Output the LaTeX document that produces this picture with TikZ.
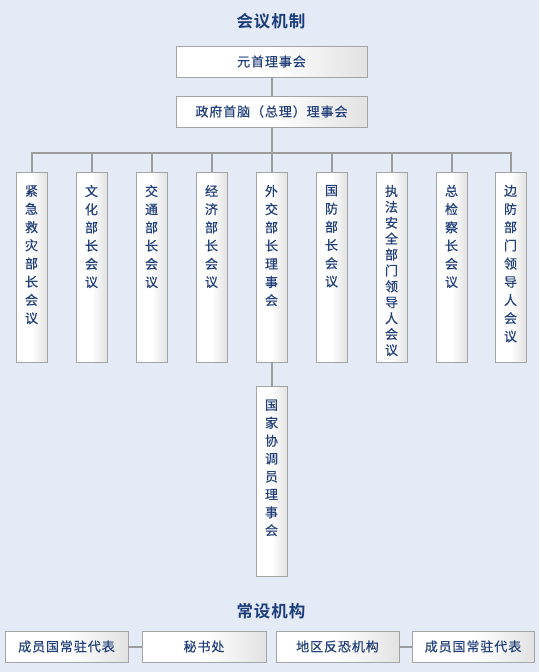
\documentclass[tikz,border=0pt]{standalone}
\usepackage{fontspec}
\newfontfamily\cjk[LetterSpace=7,FakeBold=0.5]{Noto Sans CJK SC}
\newfontfamily\cjkv[FakeBold=0.5]{Noto Sans CJK SC}
\newfontfamily\cjkb[LetterSpace=6]{Noto Sans CJK SC Bold}
\definecolor{bgcol}{HTML}{E4EBF6}
\definecolor{boxline}{HTML}{A4A4A4}
\definecolor{boxgrey}{HTML}{E2E2E2}
\definecolor{conncol}{HTML}{9C9C9C}
\definecolor{txtcol}{HTML}{22407A}
\definecolor{titlecol}{HTML}{1C3E7C}
\newcommand\colstack[2][18.2]{\parbox[c][190pt][t]{31pt}{\cjkv\fontsize{13}{#1}\selectfont\centering\vspace*{13pt}#2\par}}
\begin{document}
\begin{tikzpicture}[x=1pt,y=-1pt,
  box/.style={draw=boxline, line width=0.8pt, left color=white, right color=boxgrey, middle color=white, inner sep=0pt, text=txtcol, font=\cjk\fontsize{13}{13}\selectfont},
  hbox/.style={box, minimum height=31pt},
  vbox/.style={box},
  conn/.style={draw=conncol, line width=2pt},
  ttl/.style={text=titlecol, font=\cjkb\fontsize{16.5}{16.5}\selectfont, inner sep=0pt}]
\fill[bgcol] (0,0) rectangle (539,672);
\useasboundingbox (0,0) rectangle (539,672);

\node[ttl] (t1) at (271,21) {会议机制};
\node[hbox, minimum width=191pt] (b1) at (271.5,61.5) {元首理事会};
\node[hbox, minimum width=191pt] (b2) at (271.5,111.5) {政府首脑（总理）理事会};
\coordinate (bus) at (271.5,153);

\node[vbox] (c1) at (31.5,267) {\colstack{紧\\急\\救\\灾\\部\\长\\会\\议}};
\node[vbox] (c2) at (91.5,267) {\colstack{文\\化\\部\\长\\会\\议}};
\node[vbox] (c3) at (151.5,267) {\colstack{交\\通\\部\\长\\会\\议}};
\node[vbox] (c4) at (211.5,267) {\colstack{经\\济\\部\\长\\会\\议}};
\node[vbox] (c5) at (271.5,267) {\colstack{外\\交\\部\\长\\理\\事\\会}};
\node[vbox] (c6) at (331.5,267) {\colstack{国\\防\\部\\长\\会\\议}};
\node[vbox] (c7) at (391.5,267) {\colstack[15.9]{执\\法\\安\\全\\部\\门\\领\\导\\人\\会\\议}};
\node[vbox] (c8) at (451.5,267) {\colstack{总\\检\\察\\长\\会\\议}};
\node[vbox] (c9) at (510.5,267) {\colstack{边\\防\\部\\门\\领\\导\\人\\会\\议}};
\node[vbox] (c10) at (271.5,481.5) {\colstack[17.9]{国\\家\\协\\调\\员\\理\\事\\会}};

\draw[conn] (b1) -- (b2);
\draw[conn] (b2) -- (bus);
\foreach \i in {1,...,9} { \draw[conn] (c\i.north) |- (bus); }
\draw[conn] (c5) -- (c10);

\node[ttl] (t2) at (271,611) {常设机构};
\node[hbox, minimum width=123pt] (a1) at (66.5,646.5) {成员国常驻代表};
\node[hbox, minimum width=124pt] (a2) at (204,646.5) {秘书处};
\node[hbox, minimum width=123pt] (a3) at (337.5,646.5) {地区反恐机构};
\node[hbox, minimum width=122pt] (a4) at (473,646.5) {成员国常驻代表};
\draw[conn] (a1) -- (a2);
\draw[conn] (a3) -- (a4);
\end{tikzpicture}
\end{document}
